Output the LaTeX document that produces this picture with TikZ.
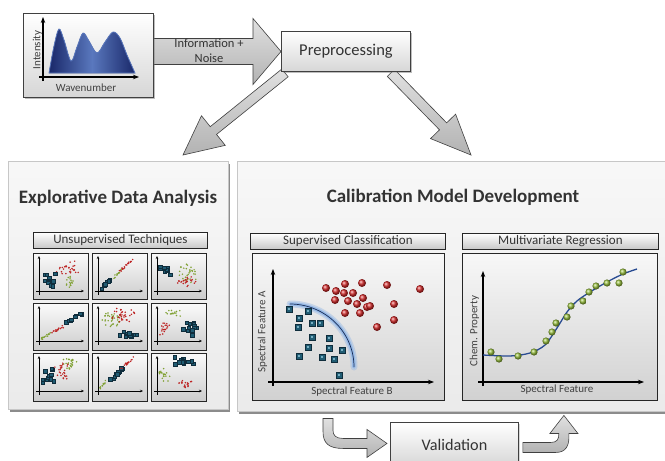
\documentclass[tikz,border=0pt]{standalone}
\usepackage{fontspec}
\setmainfont{Carlito}
\usetikzlibrary{calc,shadows,arrows.meta}

\definecolor{txt}{HTML}{333333}
\definecolor{sqfill}{RGB}{32,92,115}
\definecolor{sqlight}{RGB}{120,175,195}
\definecolor{sqdark}{RGB}{15,45,60}
\definecolor{redball}{RGB}{210,40,40}
\definecolor{greenball}{RGB}{150,190,60}
\definecolor{specdark}{RGB}{25,40,105}
\definecolor{speclight}{RGB}{90,120,190}
\definecolor{fitblue}{RGB}{40,75,145}
\definecolor{glow}{RGB}{150,185,230}

\tikzset{
  bevelbox/.style={draw=black!75, line width=0.9pt, top color=white, bottom color=black!16,
    drop shadow={opacity=0.3, shadow xshift=1.5pt, shadow yshift=-2pt}},
  panel/.style={draw=black!22, line width=0.8pt, top color=black!3, bottom color=black!8,
    drop shadow={fill=black!50, opacity=0.9, shadow xshift=1.5pt, shadow yshift=-3pt}},
  titlebar/.style={draw=black!85, line width=0.8pt, top color=white, bottom color=black!22,
    text=txt, font=\fontsize{13}{15}\selectfont, inner sep=0pt, anchor=north west},
  plotbox/.style={draw=black!85, line width=0.9pt, top color=black!3, bottom color=black!18,
    inner sep=0pt, anchor=north west},
  thumb/.style={draw=black!85, line width=1pt, top color=black!2, bottom color=black!20,
    inner sep=0pt, anchor=north west, minimum width=55pt},
  blockarrow/.style={draw=black!75, line width=0.6pt, top color=black!12, bottom color=black!30},
  axis/.style={line width=1.1pt, -{Stealth[length=6pt,width=4.5pt]}},
  thinaxis/.style={line width=0.6pt, -{Stealth[length=3pt,width=2.5pt]}},
  axlabel/.style={text=black!75, font=\fontsize{11}{13}\selectfont, inner sep=0pt},
  bigtitle/.style={text=txt, font=\bfseries\fontsize{19}{22}\selectfont},
}

% straight block arrow: [style]{from}{to}{shaft half width}{head half width}{head length}
\newcommand\blockarr[6][]{%
  \coordinate (ba-h) at ($(#3)!#6!(#2)$);
  \path[blockarrow,#1] ($(#2)!#4!90:(#3)$) -- ($(ba-h)!#4!90:(#3)$) -- ($(ba-h)!#5!90:(#3)$)
    -- (#3) -- ($(ba-h)!#5!-90:(#3)$) -- ($(ba-h)!#4!-90:(#3)$) -- ($(#2)!#4!-90:(#3)$) -- cycle;
}

% small scatter markers
\newcommand\tsq[2]{\filldraw[fill=sqfill,draw=sqdark,line width=0.2pt] (#1-1.7,#2-1.7) rectangle ++(3.4,3.4);}
\newcommand\trd[2]{\fill[redball!90!black] (#1,#2) circle (0.85pt);}
\newcommand\tgr[2]{\fill[greenball!85!black] (#1,#2) circle (0.85pt);}
% large scatter markers
\newcommand\bsq[2]{\filldraw[fill=sqfill,draw=sqdark,line width=0.3pt] (#1-3.3,#2-3.3) rectangle ++(6.6,6.6);
  \fill[sqlight] (#1-1,#2-1) rectangle ++(2,2);}
\newcommand\brd[2]{\shade[ball color=redball] (#1,#2) circle (4pt);}
\newcommand\bgr[2]{\shade[ball color=greenball] (#1,#2) circle (3.6pt);}

% point clouds: marker, cx, cy, rx, ry, count
\newcommand\cloud[6]{\foreach \k in {1,...,#6}{%
  \pgfmathsetmacro\px{#2+#4*0.6*(rand+rand)}%
  \pgfmathsetmacro\py{#3+#5*0.6*(rand+rand)}%
  #1{\px}{\py}}}
% points along a line: marker, x1, y1, x2, y2, count, jitter
\newcommand\streak[7]{\foreach \k in {1,...,#6}{%
  \pgfmathsetmacro\sv{rnd}%
  \pgfmathsetmacro\px{#2+(#4-#2)*\sv+#7*rand}%
  \pgfmathsetmacro\py{#3+(#5-#3)*\sv+#7*rand}%
  #1{\px}{\py}}}
\newcommand\thumbaxes{\draw[thinaxis] (6,42) -- (6,3); \draw[thinaxis] (3,38) -- (51,38);}

\begin{document}
\begin{tikzpicture}[x=1pt,y=-1pt]
\pgfmathsetseed{11}
\useasboundingbox (0,0) rectangle (665,461);
\clip (0,0) rectangle (665,461);
\fill[white] (0,0) rectangle (665,461);

% ---------- the two work panels ----------
\node[panel, anchor=north west, minimum width=220pt, minimum height=248pt] (eda) at (8,161) {};
\node[panel, anchor=north west, minimum width=428pt, minimum height=250pt] (cmd) at (237,161) {};
\node[bigtitle] (edaTitle) at (118,198) {Explorative Data Analysis};
\node[bigtitle] (cmdTitle) at (453,197) {Calibration Model Development};

% ---------- spectrum and preprocessing ----------
\node[bevelbox, anchor=north west, minimum width=130pt, minimum height=84pt] (spec) at (23,13) {};
\node[bevelbox, anchor=north west, minimum width=129pt, minimum height=40pt,
      text=txt, font=\fontsize{16.5}{19}\selectfont] (prep) at (281,31) {Preprocessing};

\coordinate (infoA) at (spec.east |- 0,51.5);
\coordinate (infoB) at (prep.west |- 0,51.5);
\blockarr{infoA}{infoB}{13pt}{33pt}{28pt}
\node[text=txt, font=\fontsize{12.5}{15}\selectfont, align=center, inner sep=0pt] (infoTxt) at (209,50.5) {Information +\\Noise};

\coordinate (leftStart) at ($(prep.south west)+(4,1)$);
\coordinate (edaIn) at (183,155);
\coordinate (rightStart) at ($(prep.south east)+(-20,1)$);
\coordinate (cmdIn) at (471,155);
\blockarr{leftStart}{edaIn}{5pt}{19pt}{39pt}
\blockarr{rightStart}{cmdIn}{5pt}{17.5pt}{40pt}
% redraw boxes above the arrow shafts
\node[bevelbox, anchor=north west, minimum width=129pt, minimum height=40pt,
      text=txt, font=\fontsize{16.5}{19}\selectfont] (prep2) at (281,31) {Preprocessing};
\node[bevelbox, anchor=north west, minimum width=130pt, minimum height=84pt] (spec2) at (23,13) {};

% spectrum curve
\filldraw[draw=speclight, line width=0.8pt, left color=specdark, right color=specdark, middle color=speclight]
  plot[smooth, tension=0.55] coordinates {(49,73) (54,46) (59,29) (64,40) (71,61) (77,47) (83,33) (89,41)
    (97,53) (105,42) (113,32) (120,38) (127,55) (135,73)} -- cycle;
\draw[axis, line width=1.3pt] (43,81) -- (43,17);
\draw[axis, line width=1.3pt] (39,77) -- (139,77);
\node[axlabel, rotate=90] (intLbl) at (37.5,50) {Intensity};
\node[axlabel] (waveLbl) at (86,88) {Wavenumber};

% ---------- explorative data analysis ----------
\node[titlebar, minimum width=174pt, minimum height=16pt] (unsup) at (33,232) {};
\node[text=txt, font=\fontsize{13}{15}\selectfont] (unsupTxt) at (unsup.center) {Unsupervised Techniques};

\node[thumb, minimum height=46pt] (t1) at (33,253) {};
\node[thumb, minimum height=46pt] (t2) at (92,253) {};
\node[thumb, minimum height=46pt] (t3) at (151,253) {};
\node[thumb, minimum height=47pt] (t4) at (33,303) {};
\node[thumb, minimum height=47pt] (t5) at (92,303) {};
\node[thumb, minimum height=47pt] (t6) at (151,303) {};
\node[thumb, minimum height=48pt] (t7) at (33,353) {};
\node[thumb, minimum height=48pt] (t8) at (92,353) {};
\node[thumb, minimum height=48pt] (t9) at (151,353) {};

\begin{scope}[shift={(t1.north west)}]
  \thumbaxes
  \cloud{\trd}{34}{15}{12}{7}{28}
  \cloud{\tgr}{37}{28}{5}{6}{16}
  \cloud{\tsq}{17}{26}{6}{8}{12}
\end{scope}
\begin{scope}[shift={(t2.north west)}]
  \thumbaxes
  \streak{\trd}{28}{18}{41}{6}{20}{1}
  \streak{\tgr}{19}{27}{30}{17}{14}{1}
  \streak{\tsq}{8}{36}{22}{24}{8}{1.2}
\end{scope}
\begin{scope}[shift={(t3.north west)}]
  \thumbaxes
  \cloud{\tgr}{37}{20}{10}{9}{30}
  \cloud{\trd}{36}{28}{9}{5}{24}
  \cloud{\tsq}{14}{16}{6}{6}{10}
\end{scope}
\begin{scope}[shift={(t4.north west)}]
  \thumbaxes
  \streak{\tgr}{6}{37}{18}{30}{14}{1}
  \streak{\trd}{17}{31}{31}{23}{16}{1}
  \streak{\tsq}{33}{20}{48}{10}{9}{1.2}
\end{scope}
\begin{scope}[shift={(t5.north west)}]
  \thumbaxes
  \cloud{\tgr}{20}{17}{10}{8}{35}
  \cloud{\trd}{32}{12}{13}{7}{35}
  \cloud{\tsq}{37}{32}{12}{3.5}{12}
\end{scope}
\begin{scope}[shift={(t6.north west)}]
  \thumbaxes
  \cloud{\tgr}{22}{10}{8}{3.5}{15}
  \cloud{\trd}{13}{25}{5}{6}{18}
  \cloud{\tsq}{41}{23}{5}{8}{12}
  \tsq{32}{26}
\end{scope}
\begin{scope}[shift={(t7.north west)}]
  \thumbaxes
  \cloud{\tgr}{37}{11}{7}{6}{26}
  \cloud{\trd}{30}{18}{7}{9}{26}
  \cloud{\tsq}{15}{25}{6}{9}{13}
\end{scope}
\begin{scope}[shift={(t8.north west)}]
  \thumbaxes
  \streak{\tgr}{7}{37}{14}{28}{10}{1}
  \streak{\tsq}{15}{30}{30}{15}{12}{1.2}
  \streak{\trd}{28}{17}{42}{4}{18}{1}
\end{scope}
\begin{scope}[shift={(t9.north west)}]
  \thumbaxes
  \cloud{\tsq}{33}{8}{10}{4}{12}
  \cloud{\tgr}{12}{21}{6}{7}{20}
  \cloud{\trd}{34}{31}{6}{3.5}{18}
\end{scope}

% ---------- supervised classification ----------
\node[titlebar, minimum width=195pt, minimum height=16pt] (sup) at (250,233) {};
\node[text=txt, font=\fontsize{13}{15}\selectfont] (supTxt) at (sup.center) {Supervised Classification};
\node[plotbox, minimum width=192pt, minimum height=147pt] (supPlot) at (252,253) {};
\draw[axis] (273,386) -- (273,269);
\draw[axis] (268,382) -- (434,382);
\node[axlabel, rotate=90] (featA) at (262.5,332) {Spectral Feature A};
\node[axlabel] (featB) at (352,392) {Spectral Feature B};

\draw[glow, line width=7pt, opacity=0.45, line cap=round] (290,304) .. controls (325,304) and (354,332) .. (354,367);
\draw[glow, line width=3.5pt, line cap=round] (290,304) .. controls (325,304) and (354,332) .. (354,367);
\draw[fitblue!60!black, line width=0.7pt] (290,304) .. controls (325,304) and (354,332) .. (354,367);

\foreach \x/\y in {326/288,336/291,345/284,362/283,387/285,420/289,344/293,353/293,335/300,
                   348/301,357/304,363/298,367/307,370/306,394/304,345/313,360/313,377/327,394/320}
  {\brd{\x}{\y}}
\foreach \x/\y in {289/309,308/311,299/318,298/327,312/323,320/323,312/337,329/338,308/347,
                   329/348,342/350,299/356,322/357,334/359,339/375}
  {\bsq{\x}{\y}}

% ---------- multivariate regression ----------
\node[titlebar, minimum width=196pt, minimum height=16pt] (reg) at (462,233) {};
\node[text=txt, font=\fontsize{13}{15}\selectfont] (regTxt) at (reg.center) {Multivariate Regression};
\node[plotbox, minimum width=195pt, minimum height=147pt] (regPlot) at (462,253) {};
\draw[axis] (483,386) -- (483,271);
\draw[axis] (478,382) -- (644,382);
\node[axlabel, rotate=90] (chemLbl) at (474.5,331) {Chem. Property};
\node[axlabel] (specLbl) at (557,390) {Spectral Feature};

\draw[fitblue, line width=1.3pt] plot[smooth] coordinates {(483,355) (510,356) (530,353) (545,345)
  (557,328) (567,312) (577,301) (590,292) (607,282) (623,274) (637,269)};
\foreach \x/\y in {491/352,499/359,518/356,534/352,546/341,552/332,556/323,567/317,571/306,
                   583/301,589/292,596/286,607/283,619/283,623/272}
  {\bgr{\x}{\y}}

% ---------- validation ----------
\node[bevelbox, anchor=north west, minimum width=128pt, minimum height=44pt,
      text=txt, font=\fontsize{16.2}{19}\selectfont] (valid) at (390,422) {Validation};

\coordinate (valIn) at ($(valid.west)+(-3,-1)$);
\coordinate (valOut) at ($(valid.east)+(4,0)$);
\begin{scope}[shift={(valIn)}]
  \path[blockarrow] (-64,-25) -- (-64,-12) .. controls (-64,0) and (-58,5) .. (-44,5) -- (-20,5)
    -- (-20,14) -- (0,0) -- (-20,-14) -- (-20,-5) -- (-44,-5) .. controls (-51,-5) and (-54,-8) .. (-54,-13)
    -- (-54,-25) -- cycle;
\end{scope}
\begin{scope}[shift={(valOut)}]
  \path[blockarrow] (0,-2) -- (28,-2) .. controls (34,-2) and (36,-5) .. (36,-11) -- (27,-11)
    -- (41,-29) -- (55,-11) -- (46,-11) -- (46,-7) .. controls (46,1) and (43,8) .. (33,8) -- (0,8) -- cycle;
\end{scope}
\end{tikzpicture}
\end{document}
